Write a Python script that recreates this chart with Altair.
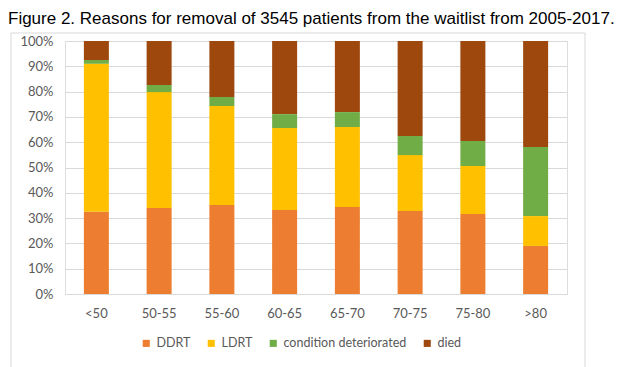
import altair as alt
import pandas as pd

categories = ["<50", "50-55", "55-60", "60-65", "65-70", "70-75", "75-80", ">80"]
series = ["DDRT", "LDRT", "condition deteriorated", "died"]
ddrt = [32.5, 34.0, 35.2, 33.2, 34.4, 32.8, 31.6, 19.0]
ldrt = [58.5, 45.8, 39.1, 32.4, 31.6, 22.1, 19.0, 11.8]
cond = [1.5, 2.8, 3.6, 5.5, 5.9, 7.6, 9.9, 27.3]
died = [7.5, 17.4, 22.1, 28.9, 28.1, 37.5, 39.5, 41.9]
colors = ["#ED7D31", "#FFC000", "#70AD47", "#9E480E"]
title_text = "Figure 2. Reasons for removal of 3545 patients from the waitlist from 2005-2017."

rows = []
for vals, s, o in zip([ddrt, ldrt, cond, died], series, range(4)):
    for c, v in zip(categories, vals):
        rows.append({"age": c, "reason": s, "pct": v / 100.0, "order": o})
df = pd.DataFrame(rows)

W, H = 502, 253
font = "Lato"

frame = alt.Chart(pd.DataFrame({"a": [0]})).mark_rect(
    fillOpacity=0, stroke="#D9D9D9", strokeWidth=1
).encode(
    x=alt.value(-54), x2=alt.value(520), y=alt.value(-8), y2=alt.value(345)
)

bars = alt.Chart(df).mark_bar(size=25).encode(
    x=alt.X("age:N", sort=categories, title=None,
            scale=alt.Scale(paddingInner=0.6, paddingOuter=0.3),
            axis=alt.Axis(labelAngle=0, labelFont=font, labelFontSize=13,
                          labelColor="#595959", ticks=False, domainColor="#D9D9D9",
                          labelPadding=13, grid=False)),
    y=alt.Y("pct:Q", stack="zero", title=None,
            scale=alt.Scale(domain=[0, 1], nice=False),
            axis=alt.Axis(format=".0%", values=[i / 10 for i in range(11)],
                          labelFont=font, labelFontSize=13, labelColor="#595959",
                          ticks=False, domain=False, gridColor="#D9D9D9",
                          labelPadding=12)),
    color=alt.Color("reason:N", sort=series,
                    scale=alt.Scale(domain=series, range=colors),
                    legend=alt.Legend(title=None, orient="none", direction="horizontal",
                                      legendX=75, legendY=296, symbolType="square",
                                      symbolSize=50, symbolStrokeWidth=0,
                                      labelFont=font, labelFontSize=12.5,
                                      labelColor="#595959", columnPadding=14,
                                      labelOffset=4)),
    order=alt.Order("order:Q"),
)

title = alt.Chart(pd.DataFrame({"t": [title_text]})).mark_text(
    align="left", baseline="alphabetic", font="Liberation Sans", fontSize=17, color="black"
).encode(text="t:N", x=alt.value(-57), y=alt.value(-17))

chart = alt.layer(frame, bars, title).properties(
    width=W, height=H,
    autosize=alt.AutoSizeParams(type="none"),
    padding={"left": 57, "top": 33, "right": 59, "bottom": 73},
).configure_view(stroke=None).configure(background="white")

chart.save("out.html", embed_options={"renderer": "svg", "actions": False})
